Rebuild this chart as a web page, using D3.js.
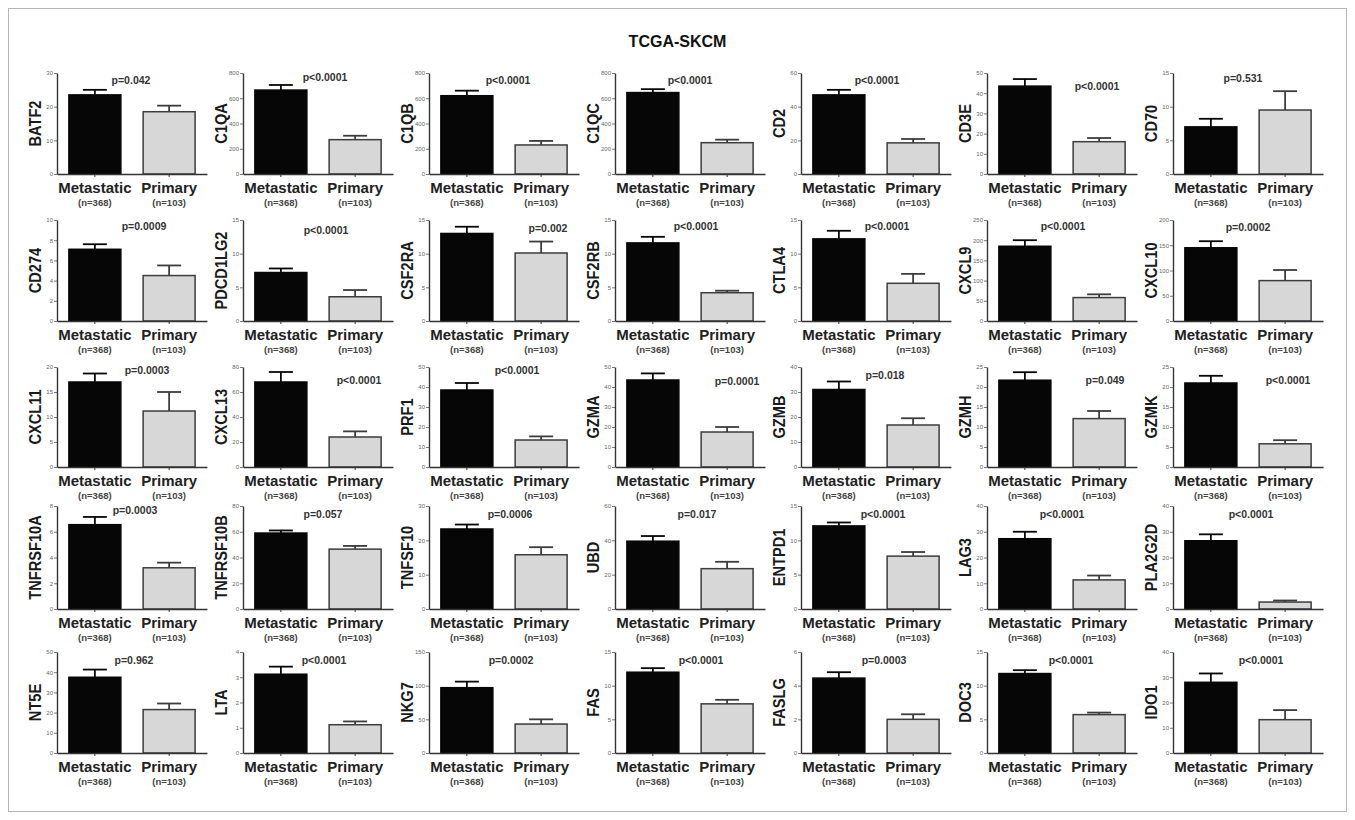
<!DOCTYPE html>
<html>
<head>
<meta charset="utf-8">
<script src="https://cdn.jsdelivr.net/npm/d3@7"></script>
<style>
  body { margin: 0; background: #fff; }
  svg { display: block; }
  text { font-family: "Liberation Sans", Arial, sans-serif; }
</style>
</head>
<body>
<svg id="fig" width="1355" height="820"></svg>
<script>
// ---- data: mean expression with SEM upper end, per gene ----
const genes = [
  "BATF2","C1QA","C1QB","C1QC","CD2","CD3E","CD70",
  "CD274","PDCD1LG2","CSF2RA","CSF2RB","CTLA4","CXCL9","CXCL10",
  "CXCL11","CXCL13","PRF1","GZMA","GZMB","GZMH","GZMK",
  "TNFRSF10A","TNFRSF10B","TNFSF10","UBD","ENTPD1","LAG3","PLA2G2D",
  "NT5E","LTA","NKG7","FAS","FASLG","DOC3","IDO1"
];
const groups = ["Metastatic", "Primary"];
const groupSizes = ["(n=368)", "(n=103)"];

const metastaticMean = [
  23.5, 665, 620, 645, 47, 43.5, 7.0,
  7.1, 7.2, 13.0, 11.6, 12.2, 185, 145,
  17.0, 68, 38.5, 43.5, 31.0, 21.7, 21.0,
  6.55, 59, 23.3, 39.5, 12.1, 27.3, 26.5,
  37.5, 3.12, 97, 12.0, 4.45, 11.8, 28.0
];
const metastaticUpper = [
  25.0, 705, 660, 672, 50, 47.0, 8.2,
  7.6, 7.8, 14.0, 12.5, 13.4, 200, 158,
  18.7, 76, 42.0, 46.8, 34.2, 23.7, 22.8,
  7.15, 61, 24.6, 42.5, 12.6, 30.0, 29.0,
  41.3, 3.42, 106, 12.6, 4.8, 12.3, 31.5
];
const primaryMean = [
  18.5, 272, 230, 248, 18.5, 16.0, 9.5,
  4.5, 3.6, 10.1, 4.2, 5.6, 58, 80,
  11.2, 24, 13.5, 17.5, 16.8, 12.1, 5.8,
  3.2, 46.5, 15.8, 23.5, 7.7, 11.3, 2.7,
  21.5, 1.12, 43, 7.3, 2.0, 5.7, 13.2
];
const primaryUpper = [
  20.3, 303, 262, 272, 20.8, 17.8, 12.3,
  5.5, 4.6, 11.8, 4.5, 7.0, 66, 101,
  15.0, 28.5, 15.3, 20.0, 19.5, 14.0, 6.7,
  3.6, 49, 18.0, 27.5, 8.3, 13.0, 3.3,
  24.5, 1.25, 50, 7.9, 2.3, 6.0, 17.0
];
const pValues = [
  "p=0.042","p<0.0001","p<0.0001","p<0.0001","p<0.0001","p<0.0001","p=0.531",
  "p=0.0009","p<0.0001","p=0.002","p<0.0001","p<0.0001","p<0.0001","p=0.0002",
  "p=0.0003","p<0.0001","p<0.0001","p=0.0001","p=0.018","p=0.049","p<0.0001",
  "p=0.0003","p=0.057","p=0.0006","p=0.017","p<0.0001","p<0.0001","p<0.0001",
  "p=0.962","p<0.0001","p=0.0002","p<0.0001","p=0.0003","p<0.0001","p<0.0001"
];
// y-axis extent and tick spacing for each panel
const axisMax = [
  30, 800, 800, 800, 60, 50, 15,
  10, 15, 15, 15, 15, 250, 200,
  20, 80, 50, 50, 40, 25, 25,
  8, 80, 30, 60, 15, 40, 40,
  50, 4, 150, 15, 6, 15, 40
];
const axisStep = [
  10, 200, 200, 200, 20, 10, 5,
  2, 5, 5, 5, 5, 50, 50,
  5, 20, 10, 10, 10, 5, 5,
  2, 20, 10, 20, 5, 10, 10,
  10, 1, 50, 5, 2, 5, 10
];

// ---- layout ----
const W = 1355, H = 820;
const nCols = 7;
const colLeft = c => 57 + 186 * c;          // x of each panel's y-axis
const rowTop  = [73, 220, 367, 506, 652];    // y of the highest tick
const rowBase = [174, 321, 467, 609, 753];   // y of the zero line
const plotW = 150;
// p-value label placement inside each panel: [dx from y-axis, dy below top]
const pLabelAt = [
  [74,11],[82,8],[79,11],[75,11],[76,11],[110,17],[70,9],
  [87,10],[83,14],[119,12],[81,10],[86,10],[76,10],[75,11],
  [90,7],[116,17],[88,7],[122,18],[84,12],[118,17],[115,17],
  [78,8],[80,12],[81,12],[82,12],[82,12],[75,12],[78,12],
  [77,12],[81,12],[82,12],[86,12],[83,12],[84,12],[88,12]
];

const svg = d3.select("#fig");

// outer frame
svg.append("rect")
  .attr("x", 8.5).attr("y", 8.5)
  .attr("width", W - 17).attr("height", H - 17)
  .attr("fill", "none").attr("stroke", "#b5b5b5").attr("stroke-width", 1);

svg.append("text")
  .attr("x", W / 2).attr("y", 47)
  .attr("text-anchor", "middle")
  .attr("font-size", 16).attr("font-weight", "bold").attr("fill", "#111")
  .text("TCGA-SKCM");

const x = d3.scaleBand().domain(groups).range([0, plotW])
  .paddingInner(0.3).paddingOuter(0.16);

genes.forEach((gene, i) => {
  const r = Math.floor(i / nCols), c = i % nCols;
  const x0 = colLeft(c), top = rowTop[r], base = rowBase[r];
  const g = svg.append("g").attr("transform", `translate(${x0},0)`);

  const y = d3.scaleLinear().domain([0, axisMax[i]]).range([base, top]);
  const ticks = d3.range(0, axisMax[i] + axisStep[i] / 2, axisStep[i]);

  const means = [metastaticMean[i], primaryMean[i]];
  const uppers = [metastaticUpper[i], primaryUpper[i]];
  const fills = ["#060606", "#d7d7d7"];
  const strokes = ["#060606", "#3c3c3c"];

  // error bars (upper half only), drawn under the bars
  groups.forEach((grp, k) => {
    const cx = x(grp) + x.bandwidth() / 2;
    g.append("line")
      .attr("x1", cx).attr("x2", cx)
      .attr("y1", y(means[k])).attr("y2", y(uppers[k]))
      .attr("stroke", strokes[k]).attr("stroke-width", 1.8);
    g.append("line")
      .attr("x1", cx - 12).attr("x2", cx + 12)
      .attr("y1", y(uppers[k])).attr("y2", y(uppers[k]))
      .attr("stroke", strokes[k]).attr("stroke-width", 1.8);
  });

  // bars
  g.selectAll("rect.bar").data(groups).join("rect")
    .attr("class", "bar")
    .attr("x", d => x(d))
    .attr("width", x.bandwidth())
    .attr("y", (d, k) => y(means[k]))
    .attr("height", (d, k) => base - y(means[k]))
    .attr("fill", (d, k) => fills[k])
    .attr("stroke", (d, k) => strokes[k])
    .attr("stroke-width", 1.5);

  // y axis
  const ya = g.append("g").call(
    d3.axisLeft(y).tickValues(ticks).tickFormat(d => String(d))
      .tickSize(3).tickSizeOuter(0).tickPadding(1)
  );
  ya.select(".domain").attr("stroke", "#333").attr("stroke-width", 1.4);
  ya.selectAll(".tick line").attr("stroke", "#555").attr("stroke-width", 0.8);
  ya.selectAll(".tick text")
    .attr("font-size", 6).attr("fill", "#666")
    .attr("font-family", "Liberation Sans, Arial, sans-serif");

  // x axis
  const xa = g.append("g").attr("transform", `translate(0,${base})`).call(
    d3.axisBottom(x).tickSize(3).tickSizeOuter(0).tickFormat("")
  );
  xa.select(".domain").attr("stroke", "#333").attr("stroke-width", 1.6);
  xa.selectAll(".tick line").attr("stroke", "#333").attr("stroke-width", 1);

  // group labels and sizes
  groups.forEach((grp, k) => {
    const cx = x(grp) + x.bandwidth() / 2;
    g.append("text")
      .attr("x", cx).attr("y", base + 19)
      .attr("text-anchor", "middle")
      .attr("font-size", 15).attr("font-weight", "bold").attr("fill", "#222")
      .text(grp);
    g.append("text")
      .attr("x", cx).attr("y", base + 32)
      .attr("text-anchor", "middle")
      .attr("font-size", 9.5).attr("font-weight", "bold").attr("fill", "#444")
      .text(groupSizes[k]);
  });

  // gene name on the y axis
  g.append("text")
    .attr("transform", `translate(-16,${(top + base) / 2}) rotate(-90) scale(0.86,1)`)
    .attr("text-anchor", "middle")
    .attr("font-size", 17).attr("font-weight", "bold").attr("fill", "#1a1a1a")
    .text(gene);

  // p-value
  g.append("text")
    .attr("x", pLabelAt[i][0]).attr("y", top + pLabelAt[i][1])
    .attr("text-anchor", "middle")
    .attr("font-size", 10.5).attr("font-weight", "bold").attr("fill", "#333")
    .text(pValues[i]);
});
</script>
</body>
</html>
